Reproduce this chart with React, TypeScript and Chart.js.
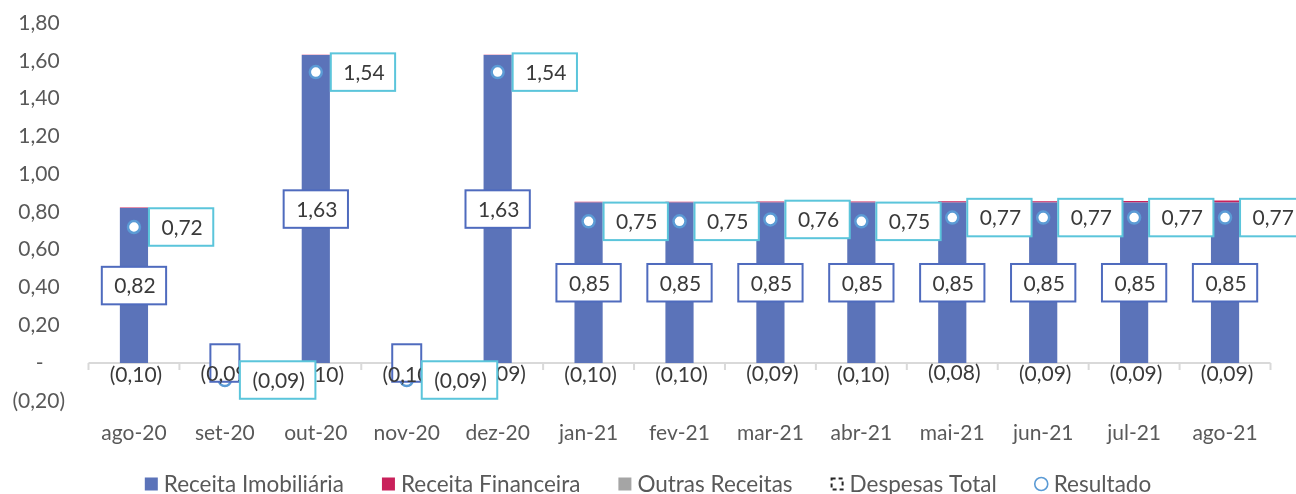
import React, { useEffect, useRef } from "react";
import { Chart, registerables } from "chart.js";

Chart.register(...registerables);

const categories = ["ago-20", "set-20", "out-20", "nov-20", "dez-20", "jan-21", "fev-21", "mar-21", "abr-21", "mai-21", "jun-21", "jul-21", "ago-21"];
const receitaImobiliaria = [0.82, 0, 1.63, 0, 1.63, 0.85, 0.85, 0.85, 0.85, 0.85, 0.85, 0.85, 0.85];
const receitaFinanceira = [0.003, 0, 0.002, 0, 0.002, 0.004, 0.004, 0.005, 0.005, 0.006, 0.007, 0.008, 0.01];
const outrasReceitas = [0, 0, 0, 0, 0, 0, 0, 0, 0, 0, 0, 0, 0];
const despesasTotal = [-0.10, -0.09, -0.10, -0.10, -0.09, -0.10, -0.10, -0.09, -0.10, -0.08, -0.09, -0.09, -0.09];
const resultado = [0.72, -0.09, 1.54, -0.09, 1.54, 0.75, 0.75, 0.76, 0.75, 0.77, 0.77, 0.77, 0.77];

const Y_MIN = -0.2;
const Y_MAX = 1.8;
const Y_STEP = 0.2;

const FONT = "Lato, 'Open Sans', sans-serif";
const TEXT = "#3A3A3A";
const AXIS_TEXT = "#595959";
const BLUE = "#5B73B9";
const CRIMSON = "#C9215B";
const GRAY = "#A5A5A5";
const MARKER = "#5B9BD5";
const BAR_LABEL_BORDER = "#4F6BBE";
const RES_LABEL_BORDER = "#5BC5DB";

function fmt(v: number): string {
  if (Math.abs(v) < 1e-9) return "-";
  const s = Math.abs(v).toFixed(2).replace(".", ",");
  return v < 0 ? `(${s})` : s;
}

function drawBox(ctx: CanvasRenderingContext2D, x: number, y: number, w: number, h: number, color: string) {
  ctx.fillStyle = "#FFFFFF";
  ctx.fillRect(x, y, w, h);
  ctx.strokeStyle = color;
  ctx.lineWidth = 2;
  ctx.strokeRect(x, y, w, h);
}

const axisPlugin = {
  id: "zeroAxis",
  beforeDatasetsDraw(chart: any) {
    const ctx = chart.ctx as CanvasRenderingContext2D;
    const { left, right } = chart.chartArea;
    const y0 = chart.scales.y.getPixelForValue(0);
    ctx.save();
    ctx.strokeStyle = "#D9D9D9";
    ctx.lineWidth = 2;
    ctx.beginPath();
    ctx.moveTo(left, y0);
    ctx.lineTo(right, y0);
    const n = categories.length;
    const step = (right - left) / n;
    for (let k = 0; k <= n; k++) {
      const x = left + k * step;
      ctx.moveTo(x, y0);
      ctx.lineTo(x, y0 + 7);
    }
    ctx.stroke();
    ctx.restore();
  },
};

const labelPlugin = {
  id: "valueLabels",
  afterDatasetsDraw(chart: any) {
    const ctx = chart.ctx as CanvasRenderingContext2D;
    ctx.save();
    ctx.font = `21px ${FONT}`;
    ctx.textAlign = "center";
    ctx.textBaseline = "middle";
    const padX = 11.5;
    const h = 37.5;

    const imob = chart.getDatasetMeta(0);
    imob.data.forEach((el: any, i: number) => {
      const v = receitaImobiliaria[i];
      const cx = el.x;
      const cy = (el.y + el.base) / 2;
      const text = Math.abs(v) < 1e-9 ? "" : fmt(v);
      const w = text ? ctx.measureText(text).width + padX * 2 : 29;
      drawBox(ctx, cx - w / 2, cy - h / 2, w, h, BAR_LABEL_BORDER);
      if (text) {
        ctx.fillStyle = TEXT;
        ctx.fillText(text, cx + 1, cy + 1);
      }
    });

    const desp = chart.getDatasetMeta(3);
    desp.data.forEach((el: any, i: number) => {
      const cy = (el.y + el.base) / 2;
      ctx.fillStyle = TEXT;
      ctx.fillText(fmt(despesasTotal[i]), el.x + 2, cy + 3);
    });

    const res = chart.getDatasetMeta(4);
    res.data.forEach((el: any, i: number) => {
      const text = fmt(resultado[i]);
      const w = ctx.measureText(text).width + padX * 2;
      const x = el.x + 15;
      drawBox(ctx, x, el.y - h / 2, w, h, RES_LABEL_BORDER);
      ctx.fillStyle = TEXT;
      ctx.fillText(text, x + w / 2 + 1, el.y + 1);
    });
    ctx.restore();
  },
};

const legendPlugin = {
  id: "customLegend",
  afterDraw(chart: any) {
    const ctx = chart.ctx as CanvasRenderingContext2D;
    const ds = chart.data.datasets;
    const items = [
      { label: ds[0].label, kind: "box", color: ds[0].backgroundColor },
      { label: ds[1].label, kind: "box", color: ds[1].backgroundColor },
      { label: ds[2].label, kind: "box", color: ds[2].backgroundColor },
      { label: ds[3].label, kind: "dash", color: "#262626" },
      { label: ds[4].label, kind: "circle", color: MARKER },
    ];
    ctx.save();
    ctx.font = `22.5px ${FONT}`;
    ctx.textBaseline = "middle";
    ctx.textAlign = "left";
    const box = 13;
    const gap = 6;
    const spacing = 38;
    const widths = items.map((it) => box + gap + ctx.measureText(it.label).width);
    const total = widths.reduce((a, b) => a + b, 0) + spacing * (items.length - 1);
    let x = (chart.width - total) / 2;
    const cy = 484;
    items.forEach((it, i) => {
      if (it.kind === "box") {
        ctx.fillStyle = it.color;
        ctx.fillRect(x, cy - box / 2, box, box);
      } else if (it.kind === "dash") {
        ctx.strokeStyle = it.color;
        ctx.lineWidth = 2;
        ctx.setLineDash([4, 3]);
        ctx.strokeRect(x + 1, cy - box / 2 + 1, box - 2, box - 2);
        ctx.setLineDash([]);
      } else {
        ctx.strokeStyle = it.color;
        ctx.lineWidth = 1.6;
        ctx.beginPath();
        ctx.arc(x + box / 2, cy, 6.5, 0, Math.PI * 2);
        ctx.stroke();
      }
      ctx.fillStyle = AXIS_TEXT;
      ctx.fillText(it.label, x + box + gap, cy + 1);
      x += widths[i] + spacing;
    });
    ctx.restore();
  },
};

export default function App() {
  const canvasRef = useRef<HTMLCanvasElement | null>(null);

  useEffect(() => {
    document.body.style.margin = "0";
    const canvas = canvasRef.current;
    if (!canvas) return;
    const chart = new Chart(canvas, {
      type: "bar",
      data: {
        labels: categories,
        datasets: [
          { type: "bar", label: "Receita Imobiliária", data: receitaImobiliaria, backgroundColor: BLUE, stack: "s", order: 1, barPercentage: 0.31, categoryPercentage: 1 },
          { type: "bar", label: "Receita Financeira", data: receitaFinanceira, backgroundColor: CRIMSON, stack: "s", order: 1, barPercentage: 0.31, categoryPercentage: 1 },
          { type: "bar", label: "Outras Receitas", data: outrasReceitas, backgroundColor: GRAY, stack: "s", order: 1, barPercentage: 0.31, categoryPercentage: 1 },
          { type: "bar", label: "Despesas Total", data: despesasTotal, backgroundColor: "rgba(0,0,0,0)", stack: "s", order: 1, barPercentage: 0.31, categoryPercentage: 1 },
          {
            type: "line",
            label: "Resultado",
            data: resultado,
            showLine: false,
            order: 0,
            pointRadius: 6,
            pointBackgroundColor: "#FFFFFF",
            pointBorderColor: MARKER,
            pointBorderWidth: 2.5,
          },
        ],
      } as any,
      options: {
        responsive: false,
        animation: false,
        layout: { padding: { left: 0, right: 25.5, top: 23, bottom: 28 } },
        plugins: { legend: { display: false }, tooltip: { enabled: false } },
        scales: {
          x: {
            stacked: true,
            grid: { display: false, drawTicks: false },
            border: { display: false },
            ticks: { color: AXIS_TEXT, font: { family: FONT, size: 21 }, padding: 20, autoSkip: false, maxRotation: 0 },
          },
          y: {
            stacked: true,
            min: Y_MIN,
            max: Y_MAX,
            grid: { display: false, drawTicks: false },
            border: { display: false },
            afterFit: (scale: any) => {
              scale.width = 88.5;
              scale.paddingTop = 12;
              scale.paddingBottom = 12;
            },
            ticks: {
              stepSize: Y_STEP,
              color: AXIS_TEXT,
              font: { family: FONT, size: 21 },
              padding: 23.5,
              callback: (v: any) => {
                const n = Number(v);
                if (Math.abs(n) < 1e-9) return "-    ";
                if (n < 0) return fmt(n);
                return fmt(n) + " ";
              },
            },
          },
        },
      },
      plugins: [axisPlugin, labelPlugin, legendPlugin],
    });
    return () => chart.destroy();
  }, []);

  return <canvas ref={canvasRef} width={1296} height={494} style={{ display: "block" }} />;
}
